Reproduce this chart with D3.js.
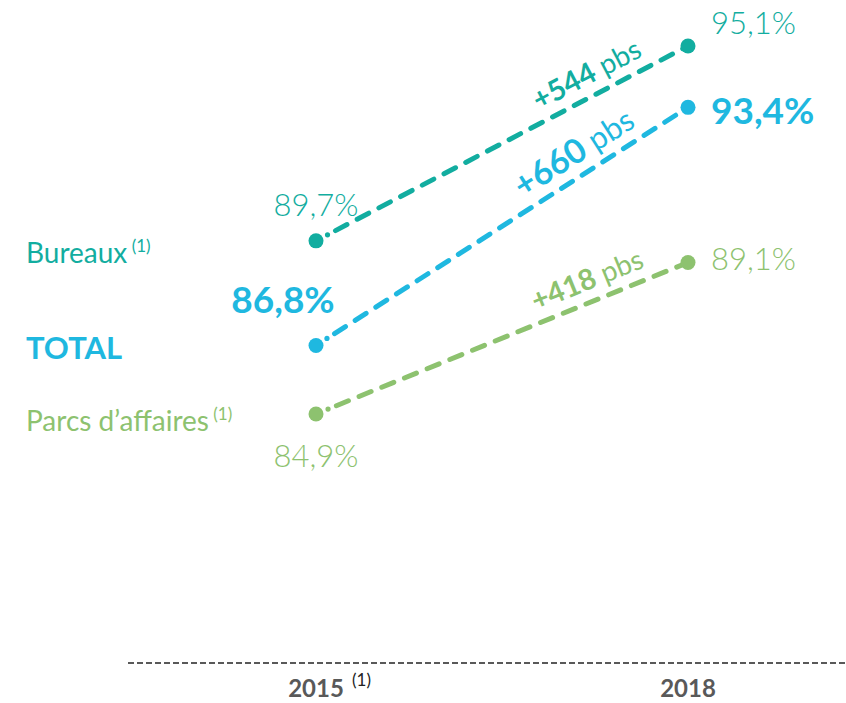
<!DOCTYPE html>
<html>
<head>
<meta charset="utf-8">
<script src="https://d3js.org/d3.v7.min.js"></script>
<style>
  body { margin: 0; background: #fff; }
  svg { display: block; }
</style>
</head>
<body>
<div id="chart"></div>
<script>
// Data
var years = ["2015", "2018"];
var seriesNames = ["Bureaux", "TOTAL", "Parcs d\u2019affaires"];
var bureauxValues = [89.7, 95.1];
var totalValues = [86.8, 93.4];
var parcsValues = [84.9, 89.1];
var deltaPbs = [544, 660, 418];

var colours = ["#12ADA0", "#1FB8E0", "#8DC26F"];
var grey = "#595959";

var W = 846, H = 703;
var svg = d3.select("#chart").append("svg").attr("width", W).attr("height", H);

var x = d3.scalePoint().domain(years).range([316, 688]);
var y = d3.scaleLinear().domain([84.9, 95.1]).range([414, 46]);

var fmt = function(v) { return d3.format(".1f")(v).replace(".", ",") + "%"; };

var series = [
  { name: seriesNames[0], values: bureauxValues, delta: deltaPbs[0], colour: colours[0], bold: false,
    nameDy: 22, firstBelow: false, lastDy: -12, deltaT: 0.755 },
  { name: seriesNames[1], values: totalValues, delta: deltaPbs[1], colour: colours[1], bold: true,
    nameDy: 14, firstBelow: false, lastDy: 17, deltaT: 0.727 },
  { name: seriesNames[2], values: parcsValues, delta: deltaPbs[2], colour: colours[2], bold: false,
    nameDy: 17, firstBelow: true, lastDy: 8, deltaT: 0.751 }
];

// bottom axis (dashed line + year labels)
svg.append("line")
  .attr("x1", 128).attr("x2", 845)
  .attr("y1", 663).attr("y2", 663)
  .attr("stroke", grey).attr("stroke-width", 2)
  .attr("stroke-dasharray", "6,3");

var axisG = svg.append("g");
years.forEach(function(yr, i) {
  axisG.append("text")
    .attr("x", x(yr)).attr("y", 697)
    .attr("text-anchor", "middle")
    .attr("font-family", "Lato, 'Open Sans', sans-serif")
    .attr("font-weight", "bold")
    .attr("font-size", 24)
    .attr("fill", grey)
    .text(yr);
  if (i === 0) {
    axisG.append("text")
      .attr("x", x(yr) + 36).attr("y", 686)
      .attr("font-family", "Lato, 'Open Sans', sans-serif")
      .attr("font-size", 17)
      .attr("fill", "#222")
      .text("(1)");
  }
});

series.forEach(function(s) {
  var pts = years.map(function(yr, i) { return [x(yr), y(s.values[i])]; });
  var g = svg.append("g");

  var dx = pts[1][0] - pts[0][0], dy = pts[1][1] - pts[0][1];
  var len = Math.sqrt(dx * dx + dy * dy);
  var ux = dx / len, uy = dy / len;

  // small dot right after the first marker, then the dashed line
  g.append("circle")
    .attr("cx", pts[0][0] + ux * 13).attr("cy", pts[0][1] + uy * 13)
    .attr("r", 2.6).attr("fill", s.colour);

  g.append("line")
    .attr("x1", pts[0][0] + ux * 22).attr("y1", pts[0][1] + uy * 22)
    .attr("x2", pts[1][0]).attr("y2", pts[1][1])
    .attr("stroke", s.colour)
    .attr("stroke-width", 5)
    .attr("stroke-linecap", "round")
    .attr("stroke-dasharray", "13,11.5");

  g.selectAll("circle.pt").data(pts).enter().append("circle")
    .attr("class", "pt")
    .attr("cx", function(d) { return d[0]; })
    .attr("cy", function(d) { return d[1]; })
    .attr("r", 7.5)
    .attr("fill", s.colour);

  // value labels
  s.values.forEach(function(v, i) {
    var t = g.append("text")
      .attr("font-family", "Lato, 'DejaVu Sans', sans-serif")
      .attr("font-weight", s.bold ? "bold" : 300)
      .attr("font-size", s.bold ? 37 : 31)
      .attr("fill", s.colour)
      .text(fmt(v));
    if (i === 0) {
      t.attr("text-anchor", "middle").attr("x", pts[0][0] + (s.bold ? -33 : 0));
      if (!s.firstBelow) t.attr("y", pts[0][1] + (s.bold ? -32 : -25));
      else t.attr("y", pts[0][1] + 53);
    } else {
      t.attr("text-anchor", "start").attr("x", pts[1][0] + 23)
        .attr("y", pts[1][1] + s.lastDy);
    }
  });

  // delta annotation along the line
  var ang = Math.atan2(dy, dx) * 180 / Math.PI;
  var px = pts[0][0] + dx * s.deltaT, py = pts[0][1] + dy * s.deltaT;
  var lab = g.append("text")
    .attr("transform", "translate(" + px + "," + py + ") rotate(" + ang + ") translate(0,-12)")
    .attr("text-anchor", "middle")
    .attr("font-family", "Lato, 'Open Sans', sans-serif")
    .attr("fill", s.colour);
  lab.append("tspan")
    .attr("font-weight", "bold")
    .attr("font-size", s.bold ? 34 : 29)
    .text("+" + s.delta);
  lab.append("tspan")
    .attr("font-weight", 400)
    .attr("font-size", s.bold ? 31 : 28)
    .text(" pbs");

  // series name on the left
  var nm = g.append("text")
    .attr("x", 26).attr("y", pts[0][1] + s.nameDy)
    .attr("font-family", "Lato, 'Open Sans', sans-serif")
    .attr("font-weight", s.bold ? "bold" : "normal")
    .attr("font-size", s.bold ? 31 : 28)
    .attr("fill", s.colour);
  nm.append("tspan").text(s.name);
  if (!s.bold) {
    nm.append("tspan").attr("font-size", 17).attr("dy", -11).text(" (1)");
  }
});
</script>
</body>
</html>
